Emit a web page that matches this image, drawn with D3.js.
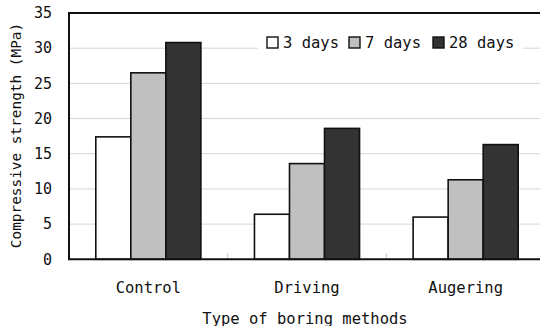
<!DOCTYPE html>
<html>
<head>
<meta charset="utf-8">
<script src="https://cdn.jsdelivr.net/npm/d3@7"></script>
<style>
  html, body { margin: 0; padding: 0; background: #fff; }
  svg { display: block; }
  text { font-family: "DejaVu Sans Mono", monospace; fill: #111; }
</style>
</head>
<body>
<svg id="chart" width="540" height="326"></svg>
<script>
// Compressive strength by boring method and curing age
const categories = ["Control", "Driving", "Augering"];
const seriesNames = ["3 days", "7 days", "28 days"];
const strength3 = [17.4, 6.4, 6.0];
const strength7 = [26.5, 13.6, 11.3];
const strength28 = [30.8, 18.6, 16.3];
const yTicks = [0, 5, 10, 15, 20, 25, 30, 35];
const seriesColors = ["#ffffff", "#c0c0c0", "#333333"];

const rows = categories.map((c, i) => ({
  category: c,
  values: [strength3[i], strength7[i], strength28[i]]
}));

const svg = d3.select("#chart");
const plotLeft = 69, plotRight = 545, plotTop = 13, plotBottom = 259.3;

const x0 = d3.scaleBand().domain(categories).range([plotLeft, plotRight]).padding(0);
const groupPad = 26.8;
const x1 = d3.scaleBand().domain(d3.range(seriesNames.length))
  .range([groupPad, x0.bandwidth() - groupPad]).padding(0);
const y = d3.scaleLinear().domain([0, 35]).range([plotBottom, plotTop]);

// horizontal gridlines
svg.append("g")
  .selectAll("line")
  .data(yTicks.filter(t => t > 0 && t < 35))
  .join("line")
  .attr("x1", plotLeft).attr("x2", plotRight)
  .attr("y1", d => y(d)).attr("y2", d => y(d))
  .attr("stroke", "#d6d6d6").attr("stroke-width", 1);

// legend backdrop interrupts the gridline behind it
svg.append("rect")
  .attr("x", 258).attr("y", 30).attr("width", 265).attr("height", 24)
  .attr("fill", "#fff");

// category separator ticks on the baseline
svg.append("g")
  .selectAll("line")
  .data(categories.slice(1))
  .join("line")
  .attr("x1", d => x0(d)).attr("x2", d => x0(d))
  .attr("y1", plotBottom - 6).attr("y2", plotBottom)
  .attr("stroke", "#c8c8c8").attr("stroke-width", 1);

// bars
const groups = svg.append("g")
  .selectAll("g")
  .data(rows)
  .join("g")
  .attr("transform", d => `translate(${x0(d.category)},0)`);

groups.selectAll("rect")
  .data(d => d.values.map((v, k) => ({ v, k })))
  .join("rect")
  .attr("x", d => x1(d.k))
  .attr("width", x1.bandwidth())
  .attr("y", d => y(d.v))
  .attr("height", d => y(0) - y(d.v))
  .attr("fill", d => seriesColors[d.k])
  .attr("stroke", "#111")
  .attr("stroke-width", 1.6);

// y axis labels
const yAxis = d3.axisLeft(y).tickValues(yTicks).tickSize(0).tickPadding(17);
const gy = svg.append("g").attr("transform", `translate(${plotLeft},0)`).call(yAxis);
gy.select(".domain").remove();
gy.selectAll("text").attr("font-size", 15).attr("font-family", "DejaVu Sans Mono").attr("fill", "#111");

// x axis labels
const xAxis = d3.axisBottom(x0).tickSize(0).tickPadding(22);
const gx = svg.append("g").attr("transform", `translate(0,${plotBottom})`).call(xAxis);
gx.select(".domain").remove();
gx.selectAll("text")
  .attr("font-size", 15.5).attr("font-family", "DejaVu Sans Mono").attr("fill", "#111")
  .attr("dy", 0).attr("y", 34);

// frame: left, top and bottom lines
svg.append("line").attr("x1", plotLeft).attr("x2", plotLeft).attr("y1", plotTop).attr("y2", plotBottom)
  .attr("stroke", "#111").attr("stroke-width", 2);
svg.append("line").attr("x1", plotLeft - 1).attr("x2", plotRight).attr("y1", plotTop).attr("y2", plotTop)
  .attr("stroke", "#111").attr("stroke-width", 2);
svg.append("line").attr("x1", plotLeft - 1).attr("x2", plotRight).attr("y1", plotBottom).attr("y2", plotBottom)
  .attr("stroke", "#111").attr("stroke-width", 2);

// axis titles
svg.append("text")
  .attr("transform", "translate(21,135.5) rotate(-90)")
  .attr("text-anchor", "middle")
  .attr("font-size", 14.4)
  .text("Compressive strength (MPa)");

svg.append("text")
  .attr("x", 305).attr("y", 323.5)
  .attr("text-anchor", "middle")
  .attr("font-size", 15.5)
  .text("Type of boring methods");

// legend
const legendX = [267, 349, 433];
const legend = svg.append("g")
  .selectAll("g")
  .data(seriesNames)
  .join("g")
  .attr("transform", (d, i) => `translate(${legendX[i]},37)`);
legend.append("rect")
  .attr("width", 11).attr("height", 11)
  .attr("fill", (d, i) => seriesColors[i])
  .attr("stroke", "#111").attr("stroke-width", 1.4);
legend.append("text")
  .attr("x", 16).attr("y", 10.5)
  .attr("font-size", 15.5)
  .text(d => d);
</script>
</body>
</html>
